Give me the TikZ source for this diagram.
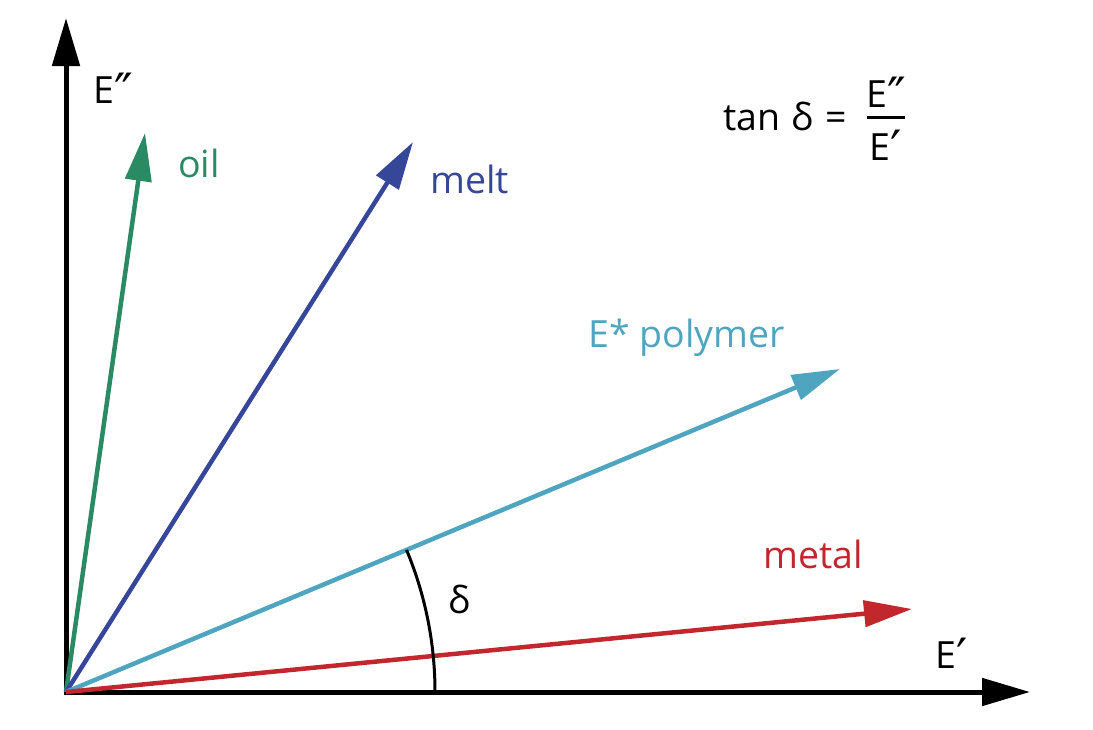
\documentclass[tikz,border=0pt]{standalone}
\usepackage{fontspec}
\setmainfont{Open Sans}
\newfontfamily\primefont{DejaVu Sans}
\usetikzlibrary{arrows.meta}
\definecolor{oilc}{RGB}{42,138,99}
\definecolor{meltc}{RGB}{54,71,154}
\definecolor{polyc}{RGB}{79,165,191}
\definecolor{metalc}{RGB}{193,39,45}
\newcommand{\dpr}{\raisebox{-6pt}{\primefont\fontsize{50}{50}\selectfont ″}}
\newcommand{\spr}{\raisebox{-6pt}{\primefont\fontsize{50}{50}\selectfont ′}}
\tikzset{
  axisline/.style={line width=5pt, -{Triangle[length=48pt,width=27pt]}},
  vec/.style={line width=4.5pt, -{Triangle[length=48pt,width=26pt]}},
  lbl/.style={inner sep=0pt, anchor=base west, font=\fontsize{37.5}{44}\selectfont}
}
\begin{document}
\begin{tikzpicture}[x=1pt,y=-1pt]
\useasboundingbox (0,0) rectangle (1093,729);
\coordinate (O) at (66,692);
\coordinate (ytip) at (66,18);
\coordinate (xtip) at (1030,692);
\coordinate (oiltip) at (145,133);
\coordinate (melttip) at (413,142);
\coordinate (polytip) at (840,369);
\coordinate (metaltip) at (912,609);
% axes
\draw[axisline] (66,694.5) -- (ytip);
\draw[axisline] (63.5,692) -- (xtip);
% vectors
\draw[vec, oilc] (O) -- (oiltip);
\draw[vec, meltc] (O) -- (melttip);
\draw[vec, polyc] (O) -- (polytip);
\draw[vec, metalc] (O) -- (metaltip);
% angle arc
\draw[line width=3pt] ([xshift=369pt]O) arc[start angle=0, end angle=-22.65, radius=369];
% labels
\node[lbl] (ylab) at (93,103) {E\dpr};
\node[lbl] (xlab) at (935,668) {E\spr};
\node[lbl, text=oilc] (oil) at (178,177) {oil};
\node[lbl, text=meltc] (melt) at (430,193) {melt};
\node[lbl, text=polyc] (poly) at (588,347) {E* polymer};
\node[lbl, text=metalc] (metal) at (763,568) {metal};
\node[lbl] (delta) at (448,613) {δ};
% formula
\node[lbl] (tan) at (723,130) {tan\hspace{11pt}δ\hspace{12pt}=};
\node[lbl, anchor=base] (num) at (886,107) {E\dpr};
\node[lbl, anchor=base] (den) at (886,160) {E\spr};
\draw[line width=3pt] (867,117) -- (905,117);
\end{tikzpicture}
\end{document}
